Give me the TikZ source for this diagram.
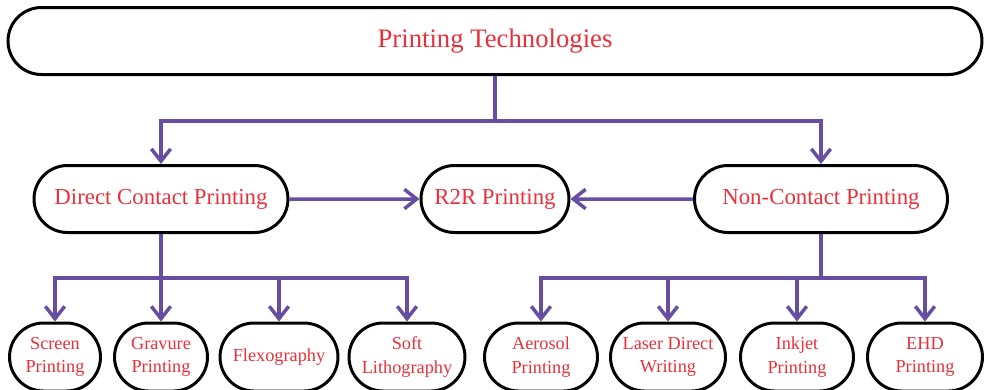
\documentclass[tikz,border=0pt]{standalone}
\usepackage{fontspec}
\setmainfont{Liberation Serif}
\usepackage{tikz}
\usetikzlibrary{positioning,shapes.misc,arrows.meta}
\definecolor{boxred}{RGB}{234,48,58}
\definecolor{flowpurple}{RGB}{104,78,160}

\begin{document}
\begin{tikzpicture}[node distance=2.5cm, auto,
    pill/.style={rounded rectangle, draw=black, line width=1.7pt, fill=white,
      text=boxred, inner sep=2pt, align=center},
    root/.style={pill, minimum width=19.62cm, minimum height=1.34cm,
      font=\fontsize{15.2}{18}\selectfont},
    branch/.style={pill, minimum height=1.34cm, font=\fontsize{13}{16}\selectfont},
    leaf/.style={pill, minimum width=2.44cm, minimum height=1.36cm,
      font=\fontsize{10.4}{13.3}\selectfont},
    flow/.style={draw=flowpurple, line width=2pt,
      -{Straight Barb[length=7pt,width=11pt]}}]
  \useasboundingbox (-9.9,0.82) rectangle (9.9,-6.96);

  \node (tech) [root] {Printing Technologies};
  \node (r2r) [branch, below of=tech, node distance=3.16cm, minimum width=3.1cm] {R2R Printing};
  \node (direct) [branch, left of=r2r, node distance=6.68cm, minimum width=5.22cm] {Direct Contact Printing};
  \node (noncontact) [branch, right of=r2r, node distance=6.52cm, minimum width=5.2cm] {Non-Contact Printing};

  \node (gravure) [leaf, below of=direct, node distance=3.16cm, minimum width=2cm] {Gravure\\Printing};
  \node (screen) [leaf, left of=gravure, node distance=2.12cm, minimum width=1.96cm] {Screen\\Printing};
  \node (flexo) [leaf, right of=gravure, node distance=2.36cm, minimum width=2.5cm] {Flexography};
  \node (softlitho) [leaf, right of=flexo, node distance=2.56cm, minimum width=2.46cm] {Soft\\Lithography};
  \node (aerosol) [leaf, right of=softlitho, node distance=2.68cm, minimum width=2.4cm] {Aerosol\\Printing};
  \node (laser) [leaf, right of=aerosol, node distance=2.54cm] {Laser Direct\\Writing};
  \node (inkjet) [leaf, right of=laser, node distance=2.58cm, minimum width=2.4cm] {Inkjet\\Printing};
  \node (ehd) [leaf, right of=inkjet, node distance=2.56cm] {EHD\\Printing};

  \path (tech.center) ++(0,-1.6) coordinate (topbar);
  \path (direct.center) ++(0,-1.58) coordinate (leftbar);
  \path (noncontact.center) ++(0,-1.58) coordinate (rightbar);

  \draw[flow] (tech.south) -- (topbar) -| (direct.north);
  \draw[flow] (topbar) -| (noncontact.north);
  \draw[flow] (direct) -- (r2r);
  \draw[flow] (noncontact) -- (r2r);

  \draw[flow] (direct.south) -- (leftbar) -| (screen.north);
  \draw[flow] (leftbar) -- (gravure.north);
  \draw[flow] (leftbar) -| (flexo.north);
  \draw[flow] (leftbar) -| (softlitho.north);

  \draw[flow] (noncontact.south) -- (rightbar) -| (aerosol.north);
  \draw[flow] (rightbar) -| (laser.north);
  \draw[flow] (rightbar) -| (inkjet.north);
  \draw[flow] (rightbar) -| (ehd.north);
\end{tikzpicture}
\end{document}
